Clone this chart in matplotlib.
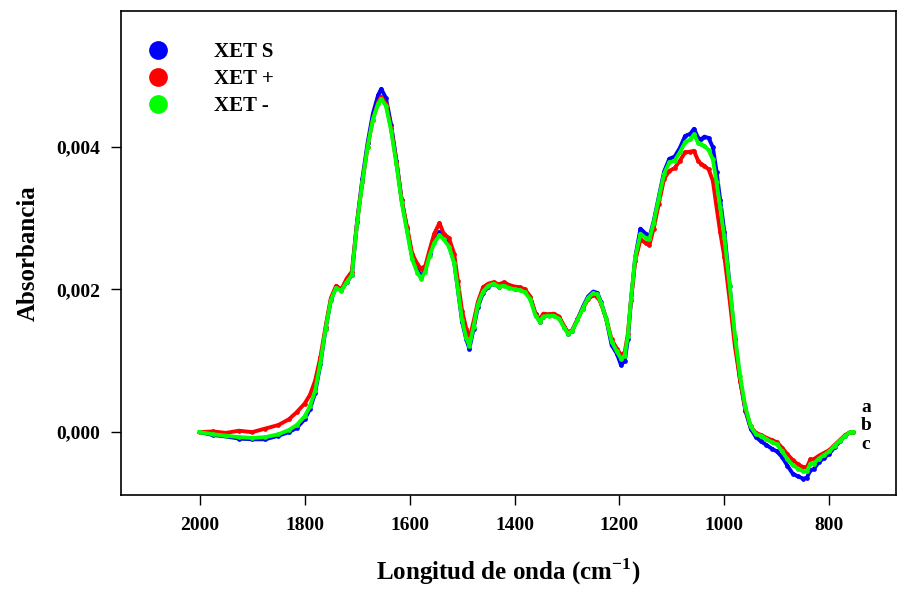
import matplotlib
matplotlib.use("Agg")
import matplotlib.pyplot as plt
from matplotlib.lines import Line2D
from matplotlib.ticker import FuncFormatter

plt.rcParams['font.family'] = ['Liberation Serif', 'DejaVu Serif']
plt.rcParams['font.weight'] = 'bold'
plt.rcParams['mathtext.fontset'] = 'custom'
plt.rcParams['mathtext.rm'] = 'Liberation Serif:bold'
plt.rcParams['mathtext.bf'] = 'Liberation Serif:bold'

# numero de onda (cm-1)
onda = [2000, 1975, 1950, 1925, 1900, 1875, 1850, 1830, 1815, 1800, 1790, 1780, 1770, 1760,
        1750, 1740, 1730, 1720, 1710, 1700, 1690, 1680, 1670, 1660, 1654, 1645, 1635, 1625,
        1615, 1605, 1595, 1585, 1578, 1570, 1562, 1553, 1543, 1535, 1525, 1515, 1508, 1500,
        1492, 1486, 1478, 1470, 1460, 1450, 1440, 1430, 1420, 1410, 1400, 1390, 1380, 1370,
        1360, 1352, 1345, 1335, 1325, 1315, 1305, 1298, 1290, 1280, 1270, 1260, 1250, 1242,
        1235, 1225, 1215, 1205, 1197, 1190, 1184, 1178, 1170, 1160, 1150, 1143, 1135, 1125,
        1115, 1105, 1095, 1085, 1075, 1065, 1058, 1050, 1045, 1038, 1030, 1022, 1015, 1008,
        1000, 990, 980, 970, 960, 950, 940, 930, 920, 910, 900, 890, 880, 870, 860, 850,
        843, 836, 830, 820, 810, 800, 790, 780, 770, 760, 755]

# absorbancia (x 1e-3)
xet_s = [0.00, -0.04, -0.06, -0.09, -0.10, -0.10, -0.05, 0.00, 0.06, 0.18, 0.32, 0.55, 0.95, 1.45,
         1.85, 2.03, 1.99, 2.10, 2.20, 2.95, 3.55, 4.05, 4.46, 4.72, 4.81, 4.68, 4.30, 3.80,
         3.25, 2.85, 2.45, 2.27, 2.18, 2.28, 2.50, 2.68, 2.80, 2.74, 2.62, 2.38, 2.00, 1.55,
         1.30, 1.17, 1.45, 1.75, 1.95, 2.04, 2.08, 2.04, 2.06, 2.03, 2.01, 2.00, 1.98, 1.88,
         1.65, 1.55, 1.62, 1.64, 1.64, 1.60, 1.47, 1.38, 1.42, 1.58, 1.75, 1.90, 1.97, 1.95,
         1.82, 1.58, 1.22, 1.10, 0.94, 1.00, 1.30, 1.85, 2.45, 2.85, 2.78, 2.73, 2.95, 3.30,
         3.65, 3.83, 3.86, 3.98, 4.15, 4.18, 4.25, 4.12, 4.10, 4.14, 4.12, 3.99, 3.65, 3.25,
         2.80, 2.05, 1.30, 0.72, 0.30, 0.05, -0.07, -0.13, -0.18, -0.23, -0.27, -0.35, -0.47, -0.58, -0.62, -0.65,
         -0.64, -0.53, -0.52, -0.42, -0.36, -0.30, -0.21, -0.13, -0.05, 0.00, 0.00]

xet_mas = [0.00, 0.01, -0.01, 0.02, 0.00, 0.05, 0.10, 0.18, 0.28, 0.40, 0.52, 0.72, 1.05, 1.48,
           1.88, 2.05, 2.00, 2.15, 2.25, 2.95, 3.50, 4.00, 4.38, 4.62, 4.70, 4.60, 4.25, 3.78,
           3.25, 2.88, 2.50, 2.35, 2.29, 2.33, 2.55, 2.78, 2.93, 2.78, 2.72, 2.50, 2.12, 1.70,
           1.45, 1.31, 1.55, 1.82, 2.03, 2.08, 2.10, 2.07, 2.10, 2.06, 2.04, 2.03, 2.00, 1.90,
           1.66, 1.58, 1.66, 1.65, 1.66, 1.62, 1.48, 1.40, 1.43, 1.58, 1.73, 1.86, 1.92, 1.90,
           1.80, 1.58, 1.30, 1.17, 1.08, 1.12, 1.38, 1.85, 2.40, 2.70, 2.65, 2.62, 2.85, 3.20,
           3.55, 3.66, 3.70, 3.80, 3.92, 3.93, 3.94, 3.80, 3.76, 3.73, 3.68, 3.52, 3.15, 2.80,
           2.45, 1.85, 1.20, 0.72, 0.32, 0.08, -0.01, -0.04, -0.08, -0.11, -0.14, -0.22, -0.31, -0.39, -0.45, -0.49,
           -0.49, -0.38, -0.38, -0.33, -0.29, -0.25, -0.18, -0.11, -0.04, 0.00, 0.00]

xet_menos = [0.00, -0.03, -0.05, -0.07, -0.08, -0.07, -0.03, 0.03, 0.10, 0.22, 0.36, 0.58, 0.97, 1.45,
             1.85, 2.02, 1.98, 2.10, 2.20, 2.93, 3.50, 4.00, 4.38, 4.60, 4.67, 4.57, 4.22, 3.75,
             3.22, 2.82, 2.42, 2.23, 2.15, 2.25, 2.47, 2.65, 2.76, 2.70, 2.60, 2.37, 2.00, 1.57,
             1.32, 1.21, 1.48, 1.78, 1.97, 2.05, 2.08, 2.04, 2.05, 2.02, 2.00, 1.99, 1.96, 1.86,
             1.63, 1.55, 1.62, 1.63, 1.63, 1.59, 1.46, 1.38, 1.42, 1.57, 1.73, 1.88, 1.95, 1.93,
             1.81, 1.58, 1.27, 1.13, 1.03, 1.07, 1.35, 1.87, 2.45, 2.78, 2.72, 2.70, 2.93, 3.28,
             3.62, 3.78, 3.80, 3.92, 4.06, 4.10, 4.17, 4.05, 4.03, 4.01, 3.95, 3.82, 3.50, 3.15,
             2.72, 2.05, 1.35, 0.78, 0.35, 0.08, -0.03, -0.05, -0.10, -0.14, -0.17, -0.27, -0.38, -0.46, -0.51, -0.55,
             -0.55, -0.44, -0.44, -0.37, -0.32, -0.27, -0.19, -0.12, -0.05, 0.00, 0.00]

series = [("XET S", xet_s, "#0000ff"), ("XET +", xet_mas, "#ff0000"), ("XET -", xet_menos, "#00ff00")]

fig = plt.figure(figsize=(8.98, 5.92), dpi=100)
ax = fig.add_axes([0.1347, 0.1639, 0.8631, 0.8175])

for nombre, vals, col in series:
    ax.plot(onda, [v / 1000 for v in vals], color=col, lw=2.8, marker='o', ms=3.4,
            markeredgewidth=0, label=nombre)

ax.set_xlim(2150, 673)
ax.set_ylim(-0.00088, 0.0059)
ax.set_xticks([2000, 1800, 1600, 1400, 1200, 1000, 800])
ax.set_yticks([0.000, 0.002, 0.004])
ax.yaxis.set_major_formatter(FuncFormatter(lambda v, p: f"{v:.3f}".replace('.', ',')))
ax.tick_params(direction='out', length=7, width=1, labelsize=14, pad=8)
ax.tick_params(axis='x', pad=9)
for s in ax.spines.values():
    s.set_linewidth(1.2)

ax.set_xlabel("Longitud de onda (cm$^{-1}$)", fontsize=18, fontweight='bold', labelpad=16)
ax.set_ylabel("Absorbancia", fontsize=18, fontweight='bold', labelpad=12)

handles = [Line2D([], [], ls='none', marker='o', ms=13.5, color=c, markeredgewidth=0) for _, _, c in series]
ax.legend(handles, [n for n, _, _ in series], loc='upper left', bbox_to_anchor=(-0.003, 0.975),
          frameon=False, prop={'size': 15, 'weight': 'bold'}, handletextpad=1.7,
          labelspacing=0.35, borderaxespad=0.5)

# letras junto al final de las curvas
for letra, yv in [("a", 0.00034), ("b", 0.00010), ("c", -0.00017)]:
    ax.text(730, yv, letra, fontsize=14, fontweight='bold', ha='center', va='center')

fig.savefig("out.png", dpi=100)
